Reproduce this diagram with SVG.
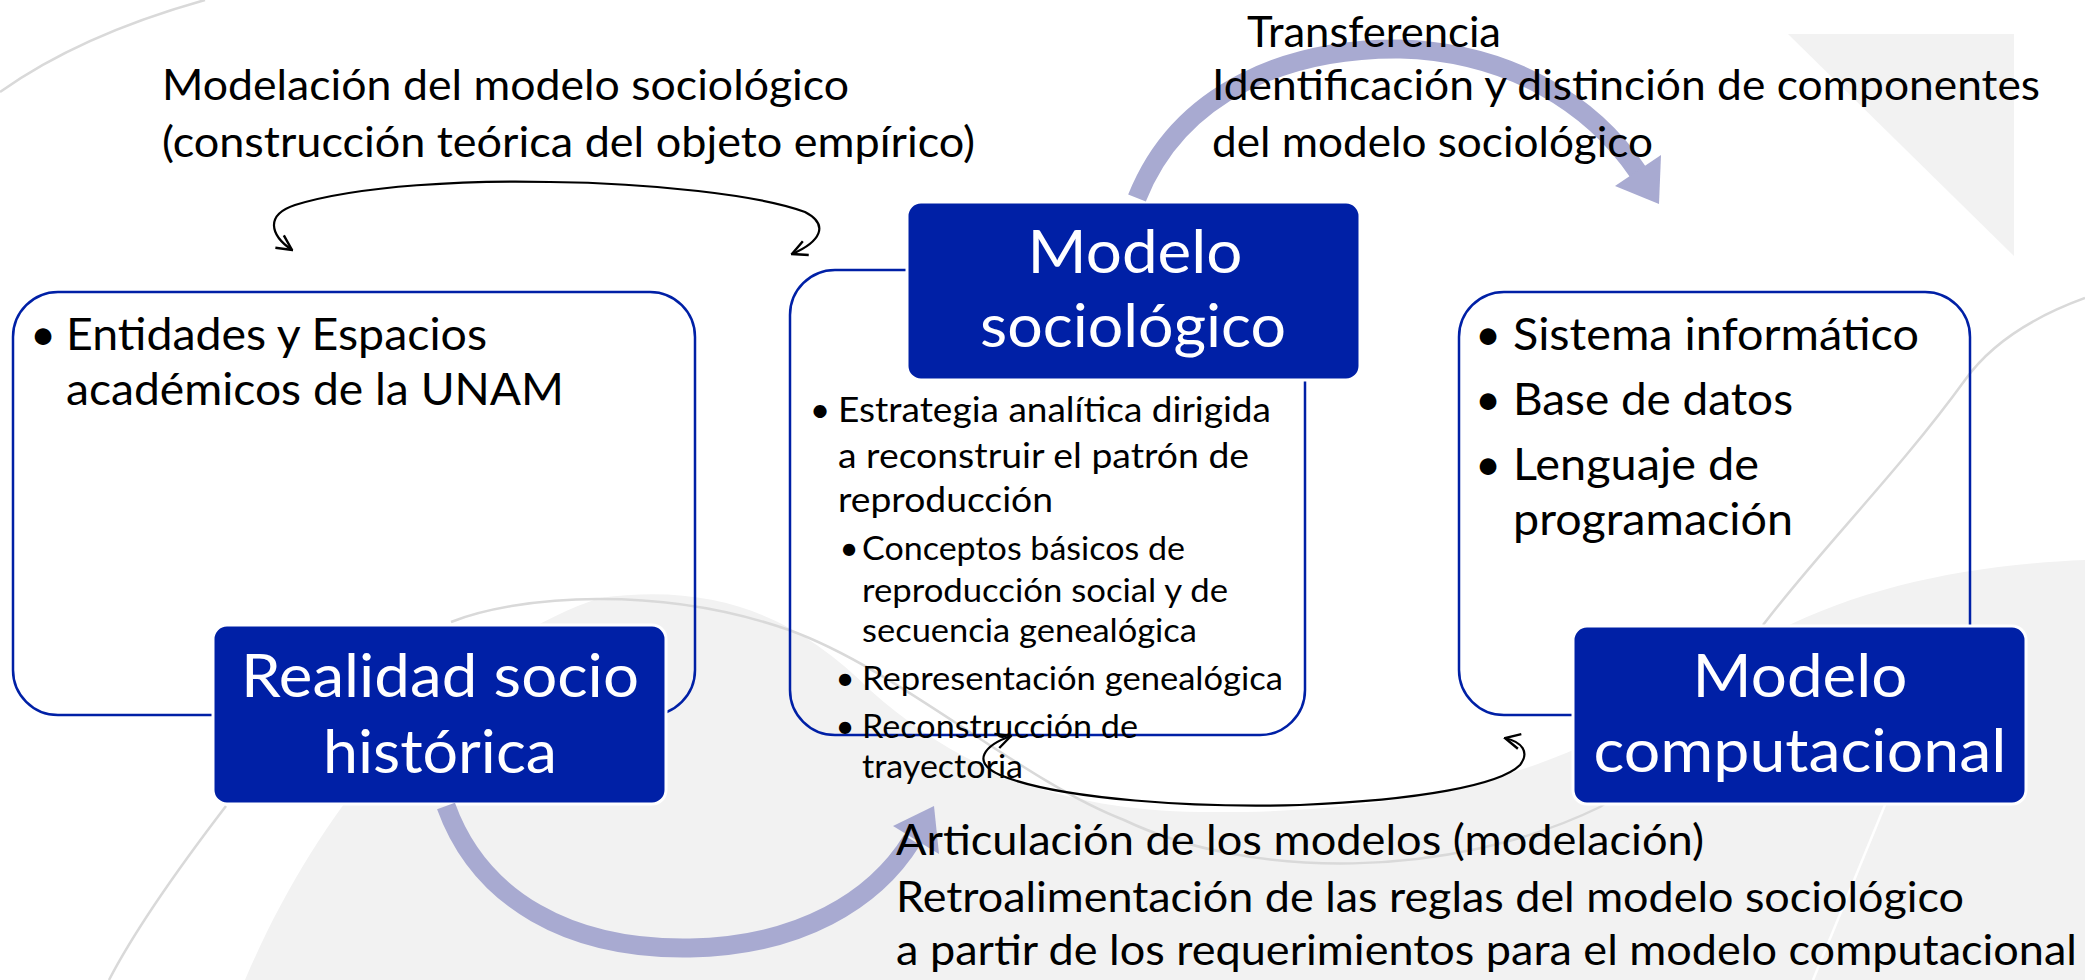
<svg xmlns="http://www.w3.org/2000/svg" width="2085" height="980" viewBox="0 0 2085 980">
<defs>
<style>
text{font-family:Lato,"Liberation Sans",sans-serif;fill:#000}
.lbl{font-size:42.5px}
.bt{font-size:45px}
.ct{font-size:35.5px}
.st{font-size:33px}
.ttl{font-size:60px;fill:#fff;text-anchor:middle}
.box{fill:none;stroke:#0020a6;stroke-width:2.5}
.navy{fill:#0020a6;stroke:#fff;stroke-width:3}
.big{fill:none;stroke:#a8aad1;stroke-width:19}
.bighead{fill:#a8aad1}
.thin{fill:none;stroke:#000;stroke-width:2.2}
.bgl{fill:none;stroke:#d9d9d9;stroke-width:2.5}
</style>
<marker id="open" viewBox="0 0 12 12" refX="11" refY="6" markerWidth="18" markerHeight="18" markerUnits="userSpaceOnUse" orient="auto-start-reverse">
<path d="M1,1 L11,6 L1,11" fill="none" stroke="#000" stroke-width="1.6"/>
</marker>
</defs>
<rect width="2085" height="980" fill="#fff"/>
<g id="background">
<path d="M245 980 C330 780 470 640 600 598 C720 582 800 620 870 690 C960 770 1060 810 1200 812 C1450 815 1600 760 1760 640 C1850 590 1960 565 2085 560 L2085 980 Z" fill="#f2f2f2"/>
<polygon points="1788,34 2014,34 2014,256" fill="#f2f2f2"/>
<path class="bgl" d="M0 92 Q80 35 205 0"/>
<path class="bgl" d="M2085 298 C2030 318 1990 345 1965 380 C1900 470 1820 550 1763 625"/>
<path class="bgl" d="M226 806 C200 840 140 920 109 980"/>
<path class="bgl" d="M451 622 C520 595 660 585 789 630 C900 670 1020 780 1124 820 C1250 880 1450 880 1600 807 L1640 780"/>
<path d="M1887 800 L1813 980" fill="none" stroke="#fff" stroke-width="2.5"/>
</g>
<g id="node-realidad">
<rect class="box" x="13" y="292" width="682" height="423" rx="45"/>
<text class="bt" x="43" y="350" text-anchor="middle">•</text>
<text class="bt" x="66" y="350" textLength="421" lengthAdjust="spacingAndGlyphs">Entidades y Espacios</text>
<text class="bt" x="66" y="405" textLength="498" lengthAdjust="spacingAndGlyphs">académicos de la UNAM</text>
<rect class="navy" x="213" y="625" width="453" height="179" rx="14"/>
<text class="ttl" x="440" y="697" textLength="398" lengthAdjust="spacingAndGlyphs">Realidad socio</text>
<text class="ttl" x="440" y="773" textLength="234" lengthAdjust="spacingAndGlyphs">histórica</text>
</g>
<g id="node-sociologico">
<rect class="box" x="790" y="270" width="515" height="465" rx="45"/>
<rect class="navy" x="907" y="202" width="453" height="178" rx="14"/>
<text class="ttl" x="1135" y="273" textLength="215" lengthAdjust="spacingAndGlyphs">Modelo</text>
<text class="ttl" x="1133" y="347" textLength="306" lengthAdjust="spacingAndGlyphs">sociológico</text>
<text class="ct" x="820" y="422" text-anchor="middle">•</text>
<text class="ct" x="838" y="422" textLength="433" lengthAdjust="spacingAndGlyphs">Estrategia analítica dirigida</text>
<text class="ct" x="838" y="468" textLength="411" lengthAdjust="spacingAndGlyphs">a reconstruir el patrón de</text>
<text class="ct" x="838" y="512" textLength="215" lengthAdjust="spacingAndGlyphs">reproducción</text>
<text class="st" x="849" y="560" text-anchor="middle">•</text>
<text class="st" x="862" y="560" textLength="323" lengthAdjust="spacingAndGlyphs">Conceptos básicos de</text>
<text class="st" x="862" y="602" textLength="366" lengthAdjust="spacingAndGlyphs">reproducción social y de</text>
<text class="st" x="862" y="642" textLength="335" lengthAdjust="spacingAndGlyphs">secuencia genealógica</text>
<text class="st" x="845" y="690" text-anchor="middle">•</text>
<text class="st" x="862" y="690" textLength="421" lengthAdjust="spacingAndGlyphs">Representación genealógica</text>
<text class="st" x="845" y="738" text-anchor="middle">•</text>
<text class="st" x="862" y="738" textLength="276" lengthAdjust="spacingAndGlyphs">Reconstrucción de</text>
<text class="st" x="862" y="778" textLength="161" lengthAdjust="spacingAndGlyphs">trayectoria</text>
</g>
<g id="node-computacional">
<rect class="box" x="1459" y="292" width="511" height="423" rx="45"/>
<text class="bt" x="1488" y="350" text-anchor="middle">•</text>
<text class="bt" x="1513" y="350" textLength="406" lengthAdjust="spacingAndGlyphs">Sistema informático</text>
<text class="bt" x="1488" y="415" text-anchor="middle">•</text>
<text class="bt" x="1513" y="415" textLength="280" lengthAdjust="spacingAndGlyphs">Base de datos</text>
<text class="bt" x="1488" y="480" text-anchor="middle">•</text>
<text class="bt" x="1513" y="480" textLength="246" lengthAdjust="spacingAndGlyphs">Lenguaje de</text>
<text class="bt" x="1513" y="535" textLength="280" lengthAdjust="spacingAndGlyphs">programación</text>
<rect class="navy" x="1573" y="626" width="453" height="178" rx="14"/>
<text class="ttl" x="1800" y="697" textLength="215" lengthAdjust="spacingAndGlyphs">Modelo</text>
<text class="ttl" x="1800" y="772" textLength="413" lengthAdjust="spacingAndGlyphs">computacional</text>
</g>
<g id="connectors">
<path class="big" d="M1137 198 C1180 90 1290 48 1400 49 C1510 52 1592 104 1638 172"/>
<polygon class="bighead" points="1659,204 1615,186 1661,155"/>
<path class="big" d="M446 806 C480 900 570 950 690 948 C800 946 875 900 912 840"/>
<polygon class="bighead" points="934,806 939,854 893,826"/>
<path class="thin" marker-start="url(#open)" marker-end="url(#open)" d="M292 250 C270 235 265 215 295 205 C360 185 470 180 550 182 C650 183 760 195 805 212 C830 225 820 242 792 254"/>
<path class="thin" marker-start="url(#open)" marker-end="url(#open)" d="M1011 736 C985 745 970 762 1000 775 C1060 800 1200 808 1300 805 C1420 800 1500 785 1520 765 C1530 752 1522 742 1505 738"/>
</g>
<g id="labels">
<text class="lbl" x="162" y="100" textLength="687" lengthAdjust="spacingAndGlyphs">Modelación del modelo sociológico</text>
<text class="lbl" x="162" y="157" textLength="813" lengthAdjust="spacingAndGlyphs">(construcción teórica del objeto empírico)</text>
<text class="lbl" x="1247" y="47" textLength="254" lengthAdjust="spacingAndGlyphs">Transferencia</text>
<text class="lbl" x="1212" y="100" textLength="828" lengthAdjust="spacingAndGlyphs">Identificación y distinción de componentes</text>
<text class="lbl" x="1212" y="157" textLength="441" lengthAdjust="spacingAndGlyphs">del modelo sociológico</text>
<text class="lbl" x="896" y="855" textLength="808" lengthAdjust="spacingAndGlyphs">Articulación de los modelos (modelación)</text>
<text class="lbl" x="896" y="912" textLength="1068" lengthAdjust="spacingAndGlyphs">Retroalimentación de las reglas del modelo sociológico</text>
<text class="lbl" x="896" y="965" textLength="1181" lengthAdjust="spacingAndGlyphs">a partir de los requerimientos para el modelo computacional</text>
</g>
</svg>
